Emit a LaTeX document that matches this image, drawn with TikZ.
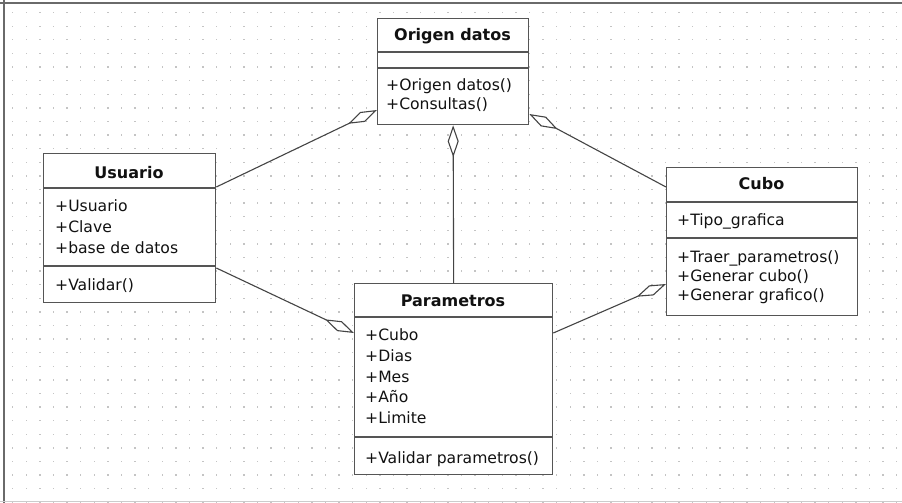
\documentclass[tikz,border=0pt]{standalone}
\usepackage{fontspec}
\setmainfont{DejaVu Sans}
\usetikzlibrary{arrows.meta}
\definecolor{boxc}{HTML}{555555}
\definecolor{linec}{HTML}{444444}
\definecolor{dotc}{HTML}{C4C4C4}
\definecolor{framec}{HTML}{6A6A6A}
\definecolor{txtc}{HTML}{111111}
\tikzset{
  classbox/.style={draw=boxc, line width=1.3pt, fill=white, inner sep=0pt, anchor=north west},
  sepline/.style={draw=boxc, line width=1.3pt},
  txt/.style={anchor=base west, inner sep=0pt, font=\fontsize{15.6}{19}\selectfont, text=txtc},
  ttl/.style={anchor=base, inner sep=0pt, font=\bfseries\fontsize{16}{19}\selectfont, text=txtc},
  agg/.style={draw=linec, line width=1.1pt, -{Diamond[length=32pt,width=11pt,fill=white,line width=1.1pt]}},
}
\begin{document}
\begin{tikzpicture}[x=1pt,y=-1pt]
\useasboundingbox (0,0) rectangle (902,503);
\fill[white] (0,0) rectangle (902,503);
% grid dots
\foreach \i in {0,...,65}{
  \foreach \j in {0,...,36}{
    \fill[dotc] (12+\i*13.6,12+\j*13.6) rectangle ++(1.3,1.3);
  }
}
% frame
\draw[framec, line width=2.5pt] (0,3) -- (902,3);
\draw[framec, line width=2pt] (4,0) -- (4,503);
\draw[black!20, line width=1.5pt] (0,501.5) -- (902,501.5);

% Origen datos
\node[classbox, minimum width=151pt, minimum height=106pt] (origen) at (377,18) {};
\draw[sepline] (origen.west |- 0,52) -- (origen.east |- 0,52);
\draw[sepline] (origen.west |- 0,68) -- (origen.east |- 0,68);
\node[ttl] (origenT) at (452.5,41) {Origen datos};
\node[txt] (origenM1) at (386,90) {+Origen datos()};
\node[txt] (origenM2) at (386,110) {+Consultas()};

% Usuario
\node[classbox, minimum width=172pt, minimum height=149pt] (usuario) at (43,153) {};
\draw[sepline] (usuario.west |- 0,188) -- (usuario.east |- 0,188);
\draw[sepline] (usuario.west |- 0,266) -- (usuario.east |- 0,266);
\node[ttl] (usuarioT) at (129,178) {Usuario};
\node[txt] (usuarioA1) at (55,211) {+Usuario};
\node[txt] (usuarioA2) at (55,232) {+Clave};
\node[txt] (usuarioA3) at (55,253) {+base de datos};
\node[txt] (usuarioM1) at (55,290) {+Validar()};

% Cubo
\node[classbox, minimum width=191pt, minimum height=148pt] (cubo) at (666,167) {};
\draw[sepline] (cubo.west |- 0,202) -- (cubo.east |- 0,202);
\draw[sepline] (cubo.west |- 0,238) -- (cubo.east |- 0,238);
\node[ttl] (cuboT) at (761.5,189) {Cubo};
\node[txt] (cuboA1) at (677,225) {+Tipo\_grafica};
\node[txt] (cuboM1) at (677,262) {+Traer\_parametros()};
\node[txt] (cuboM2) at (677,281) {+Generar cubo()};
\node[txt] (cuboM3) at (677,300) {+Generar grafico()};

% Parametros
\node[classbox, minimum width=198pt, minimum height=191pt] (param) at (354,283) {};
\draw[sepline] (param.west |- 0,317) -- (param.east |- 0,317);
\draw[sepline] (param.west |- 0,437) -- (param.east |- 0,437);
\node[ttl] (paramT) at (453,306) {Parametros};
\node[txt] (paramA1) at (365,340) {+Cubo};
\node[txt] (paramA2) at (365,361) {+Dias};
\node[txt] (paramA3) at (365,382) {+Mes};
\node[txt] (paramA4) at (365,402) {+Año};
\node[txt] (paramA5) at (365,423) {+Limite};
\node[txt] (paramM1) at (365,463) {+Validar parametros()};

% aggregations
\draw[agg] ([yshift=-34pt]usuario.north east) -- ([yshift=-92pt]origen.north west);
\draw[agg] ([yshift=-20pt]cubo.north west) -- ([yshift=-96pt]origen.north east);
\draw[agg] (param.north) -- (origen.south);
\draw[agg] ([yshift=-115pt]usuario.north east) -- ([yshift=-50pt]param.north west);
\draw[agg] ([yshift=-50pt]param.north east) -- ([yshift=-117pt]cubo.north west);
\end{tikzpicture}
\end{document}
